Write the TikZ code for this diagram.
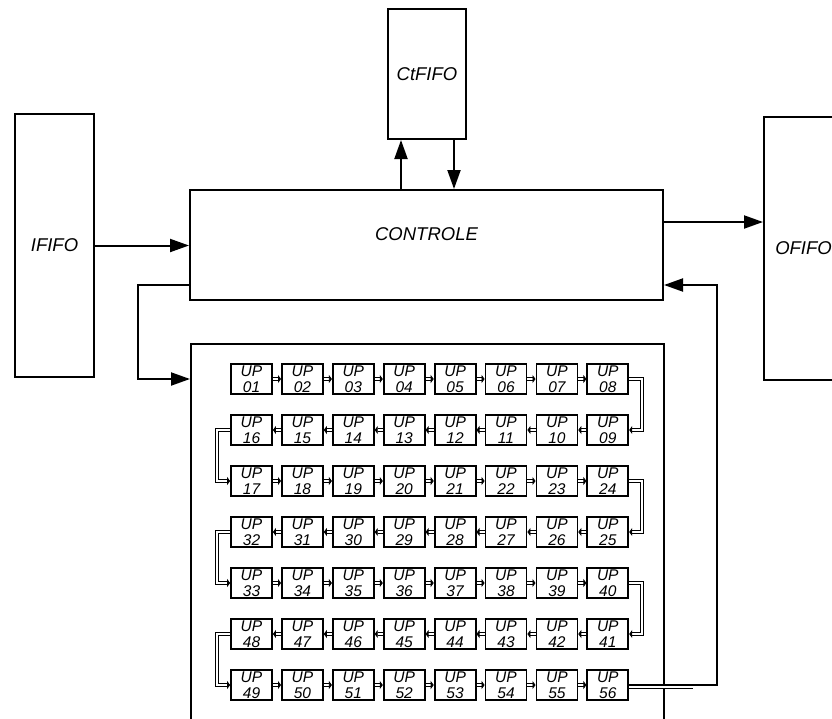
\documentclass[tikz,border=0pt]{standalone}
\usepackage{fontspec}
\setmainfont{Liberation Sans}
\usetikzlibrary{arrows.meta}

\tikzset{
  txt/.style={font=\fontsize{18.5}{20}\selectfont\itshape},
  blk/.style={txt, draw, line width=2pt, inner sep=0pt},
  upbox/.style={draw, line width=1.8pt, minimum width=41pt, minimum height=30pt, inner sep=0pt,
    align=center, font=\fontsize{15.5}{16.5}\selectfont\itshape},
  link/.style={line width=2pt, -{Triangle[length=19pt,width=13pt]}},
  bus/.style={double, line width=1.2pt, double distance=1.8pt, -{Triangle[length=3pt,width=8pt]}},
}

\begin{document}
\begin{tikzpicture}[x=1pt,y=-1pt]
  \useasboundingbox (0,0) rectangle (832,718);
  \clip (0,0) rectangle (832,718);
  \node[blk, minimum width=79pt, minimum height=263pt] (ififo) at (54.5,245.5) {IFIFO};
  \node[blk, minimum width=473pt, minimum height=110pt,
    label={[txt, yshift=11pt]center:CONTROLE}] (ctrl) at (426.5,245) {};
  \node[blk, minimum width=78pt, minimum height=130pt] (ctfifo) at (427,74) {CtFIFO};
  \node[blk, minimum width=79pt, minimum height=263pt] (ofifo) at (803.5,248.5) {OFIFO};
  \node[blk, minimum width=473pt, minimum height=400pt, anchor=north west] (arr) at (190,343) {};

  % processing units
  \foreach \r in {0,...,6}{
    \foreach \c in {0,...,7}{
      \pgfmathtruncatemacro\n{isodd(\r) ? 8*\r+8-\c : 8*\r+\c+1}
      \node[upbox] (p-\r-\c) at ({251.5+50.9*\c},{379+51*\r}) {UP\\\ifnum\n<10 0\fi\n};
    }
  }
  \foreach \r in {0,...,6}{
    \foreach \c [evaluate=\c as \d using int(\c+1)] in {0,...,6}{
      \ifodd\r \draw[bus] (p-\r-\d) -- (p-\r-\c); \else \draw[bus] (p-\r-\c) -- (p-\r-\d); \fi
    }
  }
  \foreach \r in {0,2,4}{
    \pgfmathtruncatemacro\s{\r+1}
    \draw[bus] (p-\r-7.east) -- ++(13,0) |- (p-\s-7.east);
  }
  \foreach \r in {1,3,5}{
    \pgfmathtruncatemacro\s{\r+1}
    \draw[bus] (p-\r-0.west) -- ++(-13,0) |- (p-\s-0.west);
  }

  % links
  \coordinate (lp) at (138,285);
  \coordinate (rp) at (717,285);
  \draw[link] (ififo) -- (ctrl.west |- ififo);
  \draw[link] (ctrl.east |- 0,222) -- (ofifo.west |- 0,222);
  \draw[link] (ctrl.north -| 401,0) -- (ctfifo.south -| 401,0);
  \draw[link] (ctfifo.south -| 454,0) -- (ctrl.north -| 454,0);
  \draw[link] (ctrl.west |- lp) -- (lp) |- (arr.west |- 0,379);
  \draw[bus, -] ([yshift=-2pt]p-6-7.east) -- ++(64,0);
  \draw[link] (p-6-7.east) -| (rp) -- (ctrl.east |- rp);
\end{tikzpicture}
\end{document}
